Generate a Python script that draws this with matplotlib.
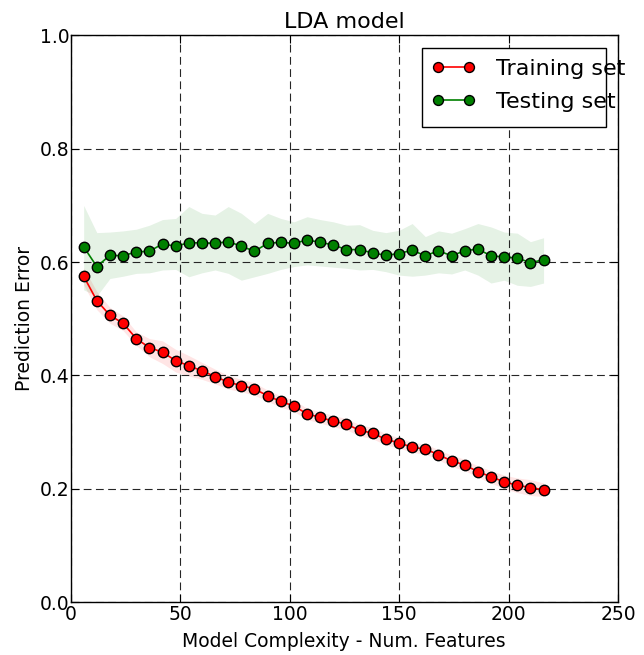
import matplotlib
matplotlib.use('Agg')
import matplotlib.pyplot as plt
from matplotlib.patches import Rectangle
import numpy as np

# number of features used at each step
n_features = [6 * k for k in range(1, 37)]

train_error = [0.575, 0.532, 0.506, 0.492, 0.465, 0.449, 0.441, 0.426, 0.417, 0.408,
               0.398, 0.388, 0.382, 0.376, 0.364, 0.354, 0.346, 0.332, 0.326, 0.319,
               0.314, 0.303, 0.298, 0.287, 0.281, 0.273, 0.270, 0.260, 0.249, 0.242,
               0.230, 0.221, 0.212, 0.206, 0.202, 0.198]
train_std = [0.015, 0.016, 0.014, 0.013, 0.012, 0.016, 0.020, 0.020, 0.018, 0.015,
             0.013, 0.012, 0.011, 0.011, 0.010, 0.010, 0.010, 0.010, 0.010, 0.010,
             0.010, 0.010, 0.010, 0.010, 0.009, 0.009, 0.009, 0.009, 0.010, 0.010,
             0.010, 0.011, 0.012, 0.013, 0.014, 0.012]

test_error = [0.627, 0.592, 0.612, 0.611, 0.618, 0.619, 0.632, 0.628, 0.634, 0.634,
              0.633, 0.636, 0.628, 0.619, 0.633, 0.635, 0.633, 0.639, 0.635, 0.630,
              0.622, 0.622, 0.616, 0.612, 0.615, 0.621, 0.611, 0.620, 0.611, 0.620,
              0.623, 0.611, 0.609, 0.607, 0.599, 0.604]
test_upper = [0.700, 0.652, 0.653, 0.655, 0.658, 0.665, 0.675, 0.677, 0.698, 0.686,
              0.683, 0.698, 0.686, 0.668, 0.686, 0.677, 0.671, 0.680, 0.675, 0.671,
              0.665, 0.666, 0.656, 0.652, 0.656, 0.668, 0.645, 0.655, 0.651, 0.659,
              0.668, 0.662, 0.653, 0.651, 0.636, 0.643]
test_lower = [0.551, 0.540, 0.571, 0.575, 0.580, 0.581, 0.586, 0.587, 0.574, 0.581,
              0.586, 0.580, 0.568, 0.574, 0.580, 0.587, 0.592, 0.595, 0.593, 0.591,
              0.589, 0.586, 0.587, 0.583, 0.577, 0.575, 0.577, 0.581, 0.579, 0.586,
              0.577, 0.563, 0.568, 0.559, 0.557, 0.563]

x_ticks = [0, 50, 100, 150, 200, 250]
y_ticks = [0.0, 0.2, 0.4, 0.6, 0.8, 1.0]

plt.rcParams['font.family'] = 'DejaVu Sans'

fig = plt.figure(figsize=(6.44, 6.55), dpi=100)
ax = fig.add_axes([0.1095, 0.0809, 0.8502, 0.865])

x = np.array(n_features)
tr = np.array(train_error)
trs = np.array(train_std)

ax.fill_between(x, tr - trs, tr + trs, color='r', alpha=0.1, linewidth=0)
ax.fill_between(x, test_lower, test_upper, color='g', alpha=0.1, linewidth=0)

ax.plot(x, tr, 'o-', color='r', mec='k', mew=1, ms=7.5, lw=1.2, label='Training set')
ax.plot(x, test_error, 'o-', color='g', mec='k', mew=1, ms=7.5, lw=1.2, label='Testing set')

ax.set_xlim(0, 250)
ax.set_ylim(0, 1)
ax.set_xticks(x_ticks)
ax.set_yticks(y_ticks)
ax.set_yticklabels([f'{v:.1f}' for v in y_ticks])
ax.tick_params(direction='in', length=6, top=True, right=True, labelsize=13.5, pad=2)
ax.tick_params(axis='y', pad=1)
ax.grid(True, color='0.15', linestyle=(0, (7, 4)), linewidth=0.8)
for s in ax.spines.values():
    s.set_linewidth(1.0)

ax.set_title('LDA model', fontsize=16, pad=5)
ax.set_xlabel('Model Complexity - Num. Features', fontsize=13.5, labelpad=6)
ax.set_ylabel('Prediction Error', fontsize=13.5, labelpad=4)

# legend box (text runs over the frame like in the original)
ax.add_patch(Rectangle((0.6415, 0.839), 0.3365, 0.138, transform=ax.transAxes,
                       facecolor='white', edgecolor='k', linewidth=1.0, zorder=4))
leg = ax.legend(loc='upper left', bbox_to_anchor=(0.659, 0.959), frameon=False,
                fontsize=16, numpoints=2, handlelength=2.0, handletextpad=0.9,
                labelspacing=0.61, borderpad=0, borderaxespad=0, markerscale=0.95)
leg.set_zorder(5)

fig.savefig('out.png', dpi=100)
